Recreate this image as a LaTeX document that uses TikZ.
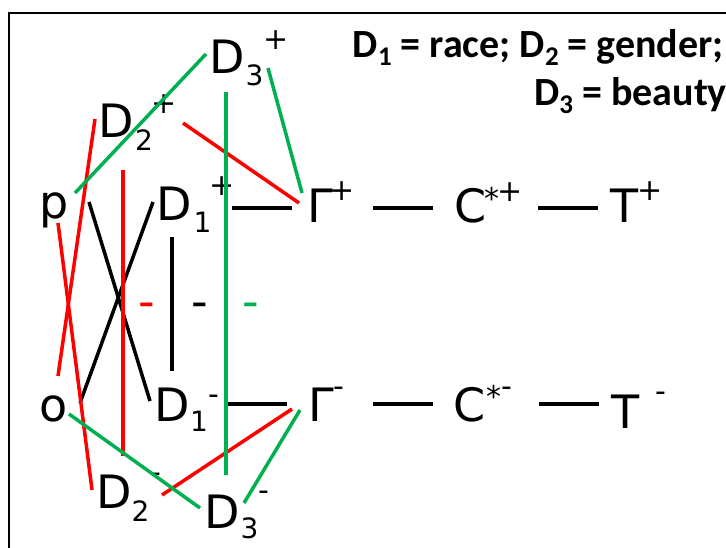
\documentclass[tikz,border=0pt]{standalone}
\usepackage{fontspec}
\setmainfont{DejaVu Sans}
\newfontfamily\legendfont{Carlito}
\definecolor{pgreen}{RGB}{0,176,80}
\definecolor{pred}{RGB}{255,0,0}
\newcommand{\lsub}[1]{\raisebox{-8pt}{\fontsize{27}{27}\selectfont #1}}
\tikzset{
  lbl/.style={font=\fontsize{46}{46}\selectfont, inner sep=0pt, anchor=base},
  subs/.style={font=\fontsize{28}{28}\selectfont, inner sep=0pt, anchor=base},
  sups/.style={font=\fontsize{30}{30}\selectfont, inner sep=0pt, anchor=center},
  supm/.style={font=\fontsize{30}{30}\selectfont, inner sep=0pt, anchor=base},
  midm/.style={font=\fontsize{46}{46}\selectfont, inner sep=0pt, anchor=base},
  gline/.style={draw=pgreen, line width=3.5pt},
  rline/.style={draw=pred, line width=3.5pt},
  kline/.style={draw=black, line width=3.5pt},
  legend/.style={font=\legendfont\bfseries\fontsize{40}{40}\selectfont, inner sep=0pt, anchor=base east},
}
\begin{document}
\begin{tikzpicture}[x=1pt,y=-1pt]
\useasboundingbox (0,0) rectangle (726,547);
% frame
\coordinate (frBL) at (9,548);
\coordinate (frTL) at (9,13);
\coordinate (frTR) at (727,13);
\draw[line width=1.8pt] (frBL) -- (frTL) -- (frTR);

% legend
\node[legend] (leg1) at (724,57) {D\lsub{1} = race; D\lsub{2} = gender;};
\node[legend] (leg2) at (727,105) {D\lsub{3} = beauty};

% labels
\node[lbl] (D3p) at (227.5,73) {D};
\node[subs] (D3ps) at (254.5,85) {3};
\node[sups] (D3pp) at (276,40) {+};

\node[lbl] (D2p) at (116.5,137) {D};
\node[subs] (D2ps) at (144,150) {2};
\node[sups] (D2pp) at (164,104) {+};

\node[lbl] (p) at (54.5,218) {p};

\node[lbl] (D1p) at (174.5,220) {D};
\node[subs] (D1ps) at (202.5,232) {1};
\node[sups] (D1pp) at (222.5,186) {+};

\node[lbl] (Gp) at (320,222) {Γ};
\node[sups] (Gpp) at (342.5,191) {+};

\node[lbl] (Cp) at (470.5,222) {C};
\node[supm] (Cpa) at (491.5,209) {*};
\node[sups] (Cpp) at (510.5,192) {+};

\node[lbl] (Tp) at (625,222) {T};
\node[sups] (Tpp) at (650.5,191) {+};

\node[lbl] (o) at (53.5,421) {o};

\node[lbl] (D1m) at (172.5,421) {D};
\node[subs] (D1ms) at (199,431) {1};
\node[supm] (D1mm) at (213.5,404) {-};

\node[lbl] (Gm) at (321.5,421) {Γ};
\node[supm] (Gmm) at (338.5,396) {-};

\node[lbl] (Cm) at (469.5,421) {C};
\node[supm] (Cma) at (494,407) {*};
\node[supm] (Cmm) at (507,396) {-};

\node[lbl] (Tm) at (625.5,428) {T};
\node[supm] (Tmm) at (660.5,401) {-};

\node[lbl] (D2m) at (114.5,508) {D};
\node[subs] (D2ms) at (140.5,521) {2};
\node[supm] (D2mm) at (156,482) {-};

\node[lbl] (D3m) at (222,528) {D};
\node[subs] (D3ms) at (249.5,538) {3};
\node[supm] (D3mm) at (264,500) {-};

\node[midm, text=pred] (mr) at (146.5,317.5) {-};
\node[midm] (mk) at (200,317.5) {-};
\node[midm, text=pgreen] (mg) at (250.5,317.5) {-};

% connector end points
\coordinate (g1a) at (75,193);  \coordinate (g1b) at (206,54);
\coordinate (g2a) at (268,68);  \coordinate (g2b) at (302,193);
\coordinate (g3a) at (226,92);  \coordinate (g3b) at (226,475);
\coordinate (g4a) at (69,414);  \coordinate (g4b) at (200,508);
\coordinate (g5a) at (244,503); \coordinate (g5b) at (300,410);
\coordinate (r1a) at (95,119);  \coordinate (r1b) at (58,376);
\coordinate (r2a) at (58,223);  \coordinate (r2b) at (92,490);
\coordinate (r3a) at (123,170); \coordinate (r3b) at (123,456);
\coordinate (r4a) at (183,123); \coordinate (r4b) at (299,203);
\coordinate (r5a) at (162,495); \coordinate (r5b) at (292,409);
\coordinate (k1a) at (89,202);  \coordinate (k1b) at (150,401);
\coordinate (k2a) at (153,202); \coordinate (k2b) at (80,403);
\coordinate (k3a) at (172,237); \coordinate (k3b) at (172,371);
\coordinate (k4a) at (232,208); \coordinate (k4b) at (292,208);
\coordinate (k5a) at (228,404); \coordinate (k5b) at (287,404);
\coordinate (h1a) at (373,208); \coordinate (h1b) at (433,208);
\coordinate (h2a) at (538,208); \coordinate (h2b) at (598,208);
\coordinate (h3a) at (373,404); \coordinate (h3b) at (433,404);
\coordinate (h4a) at (539,404); \coordinate (h4b) at (599,404);

% black connectors
\draw[kline] (k1a) -- (k1b);
\draw[kline] (k2a) -- (k2b);
\draw[kline] (k3a) -- (k3b);
\draw[kline] (k4a) -- (k4b);
\draw[kline] (k5a) -- (k5b);
\draw[kline] (h1a) -- (h1b);
\draw[kline] (h2a) -- (h2b);
\draw[kline] (h3a) -- (h3b);
\draw[kline] (h4a) -- (h4b);
% red connectors
\draw[rline] (r1a) -- (r1b);
\draw[rline] (r2a) -- (r2b);
\draw[rline] (r3a) -- (r3b);
\draw[rline] (r4a) -- (r4b);
\draw[rline] (r5a) -- (r5b);
% green connectors
\draw[gline] (g1a) -- (g1b);
\draw[gline] (g2a) -- (g2b);
\draw[gline] (g3a) -- (g3b);
\draw[gline] (g4a) -- (g4b);
\draw[gline] (g5a) -- (g5b);
\end{tikzpicture}
\end{document}
